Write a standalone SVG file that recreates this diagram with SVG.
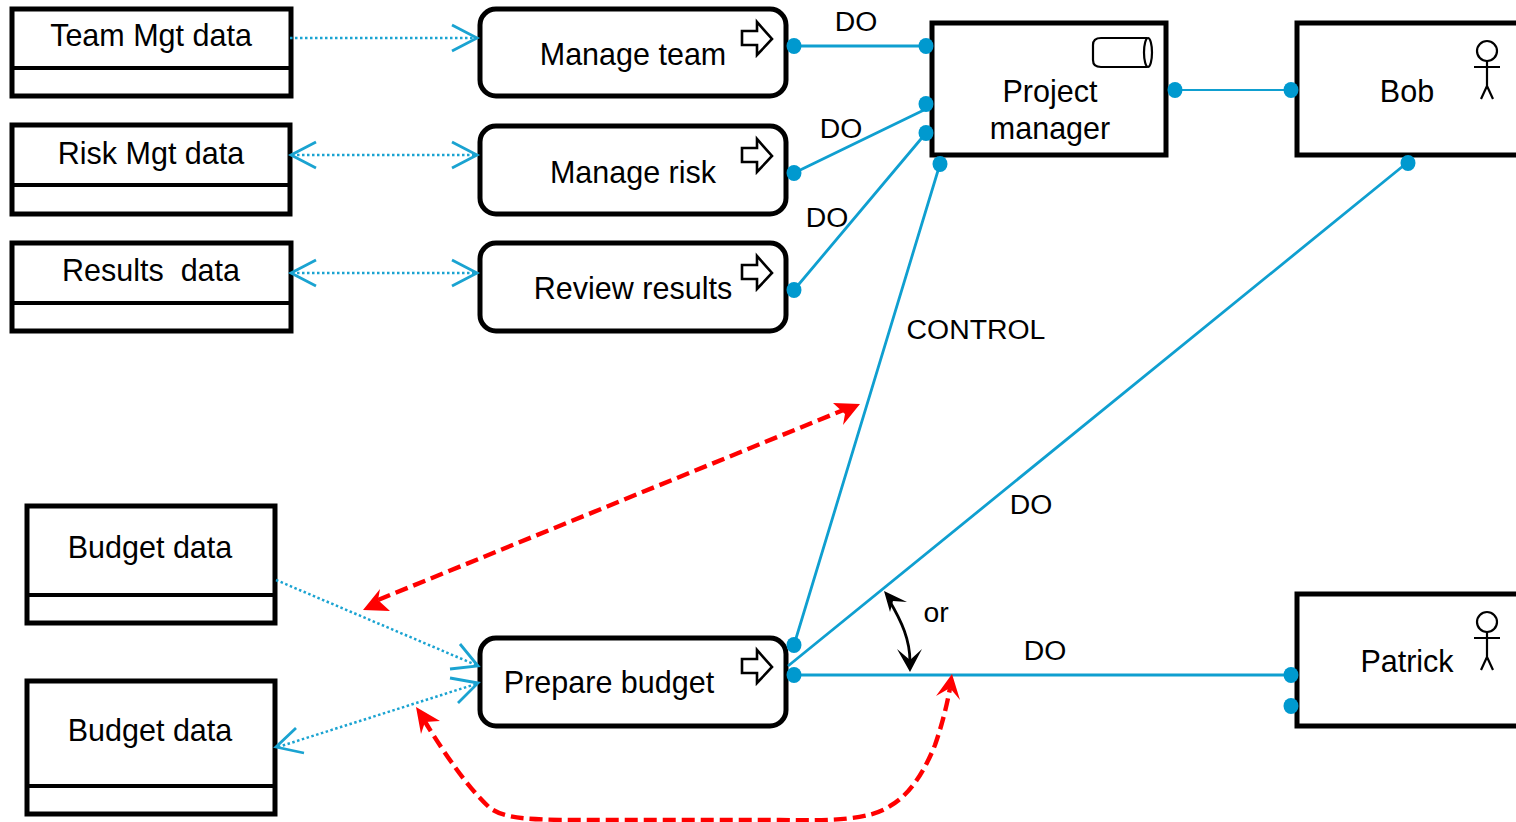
<svg xmlns="http://www.w3.org/2000/svg" width="1516" height="822" viewBox="0 0 1516 822">
<style>
text{font-family:"Liberation Sans",Arial,sans-serif;font-size:30.500px;fill:#000;text-anchor:middle}
.box{fill:#fff;stroke:#000;stroke-width:5}
.dv{fill:none;stroke:#000;stroke-width:4}
.icon{fill:#fff;stroke:#000;stroke-width:2.600}
.thin{fill:none;stroke:#000;stroke-width:2.200}
.solid{fill:none;stroke:#0f9fd0;stroke-width:2.800}
.fine{fill:none;stroke:#0f9fd0;stroke-width:2}
.dot{fill:none;stroke:#1aa3d1;stroke-width:2.500;stroke-dasharray:2.500 2.500}
.open{fill:none;stroke:#1aa3d1;stroke-width:2.800}
.red{fill:none;stroke:#f00;stroke-width:4.400;stroke-dasharray:13 6}
.rh{fill:#f00}
.pin{fill:#0099cf}
.k{fill:none;stroke:#000;stroke-width:2.800}
.kh{fill:#000}
.lb{font-size:28.400px}
</style>
<defs>
<path id="pa" class="icon" d="M742 31h15v-9l15 17-15 16v-10h-15z"/>
<g id="actor"><circle cx="1487" cy="51" r="10" class="thin"/><path class="thin" d="M1474 67h26M1487 61v25M1487 86l-6 13M1487 86l6 13"/></g>
</defs>
<g id="team-data"><rect class="box" x="12" y="9" width="279" height="87"/><path class="dv" d="M12 68H291"/><text x="151" y="46">Team Mgt data</text></g>
<g id="risk-data"><rect class="box" x="12" y="125" width="278" height="89"/><path class="dv" d="M12 185H290"/><text x="151" y="164">Risk Mgt data</text></g>
<g id="results-data"><rect class="box" x="12" y="243" width="279" height="88"/><path class="dv" d="M12 303H291"/><text x="151" y="281" xml:space="preserve">Results  data</text></g>
<g id="budget-data-1"><rect class="box" x="27" y="506" width="248" height="117"/><path class="dv" d="M27 595H275"/><text x="150" y="558">Budget data</text></g>
<g id="budget-data-2"><rect class="box" x="27" y="681" width="248" height="133"/><path class="dv" d="M27 786H275"/><text x="150" y="741">Budget data</text></g>
<g id="manage-team"><rect class="box" x="480" y="9" width="306" height="87" rx="16"/><use href="#pa"/><text x="633" y="65">Manage team</text></g>
<g id="manage-risk"><rect class="box" x="480" y="126" width="306" height="88" rx="16"/><use href="#pa" y="117"/><text x="633" y="183">Manage risk</text></g>
<g id="review-results"><rect class="box" x="480" y="243" width="306" height="88" rx="16"/><use href="#pa" y="234"/><text x="633" y="299">Review results</text></g>
<g id="prepare-budget"><rect class="box" x="480" y="638" width="306" height="88" rx="16"/><use href="#pa" y="628"/><text x="609" y="693">Prepare budget</text></g>
<g id="project-manager"><rect class="box" x="932" y="23" width="234" height="132"/><path class="thin" d="M1101 38h46M1101 67h46M1101 38q-8 0-8 7v15q0 7 8 7"/><ellipse class="thin" cx="1148" cy="52.500" rx="4" ry="14.500"/><text x="1050" y="102">Project</text><text x="1050" y="139">manager</text></g>
<g id="bob"><rect class="box" x="1297" y="23" width="225" height="132"/><use href="#actor"/><text x="1407" y="102">Bob</text></g>
<g id="patrick"><rect class="box" x="1297" y="594" width="225" height="132"/><use href="#actor" y="571"/><text x="1407" y="672">Patrick</text></g>
<g id="connectors">
<path class="dot" d="M290 38H476"/><path class="open" d="M452 25l25 13-25 13"/>
<path class="dot" d="M292 155H476"/><path class="open" d="M316 142l-25 13 25 13M452 142l25 13-25 13"/>
<path class="dot" d="M292 273H476"/><path class="open" d="M316 260l-25 13 25 13M452 260l25 13-25 13"/>
<path class="dot" d="M276 580L476 665"/><path class="open" d="M460 644l18 22-28 3"/>
<path class="dot" d="M278 747L476 684"/><path class="open" d="M450 678l28 5-20 20M304 753l-28-6 20-19"/>
<path class="solid" d="M794 46H926"/><path class="fine" d="M1175 90H1291"/>
<path class="solid" d="M794 173L926 109M794 290L926 133M794 645L940 164M788 666L1408 162M794 675H1291"/>
<path class="k" d="M889 600C902 622 910 640 910 662"/>
<path class="kh" d="M884 591l23 11-14-1-3 11zM910 672l-13-23 13 11 12-11z"/>
<path class="red" d="M378 600L846 409"/>
<path class="rh" d="M363 610l17-21-2 11 12 11zM860 404l-17 21 2-11-12-11z"/>
<path class="red" d="M424 720C445 755 470 790 490 808 505 819 530 819 560 820H780C830 821 870 820 890 806 910 795 925 770 935 745 942 725 947 705 950 688"/>
<path class="rh" d="M416 707l24 14-15 1-4 12zM952 674l8 26-10-12-14 8z"/>
</g>
<g id="pins">
<ellipse class="pin" cx="794" cy="46" rx="7.500" ry="8"/><ellipse class="pin" cx="926" cy="46" rx="7.500" ry="8"/>
<ellipse class="pin" cx="794" cy="173" rx="7.500" ry="8"/><ellipse class="pin" cx="926" cy="104" rx="7.500" ry="8"/>
<ellipse class="pin" cx="794" cy="290" rx="7.500" ry="8"/><ellipse class="pin" cx="926" cy="133" rx="7.500" ry="8"/>
<ellipse class="pin" cx="940" cy="164" rx="7.500" ry="8"/><ellipse class="pin" cx="1175" cy="90" rx="7.500" ry="8"/>
<ellipse class="pin" cx="1291" cy="90" rx="7.500" ry="8"/><ellipse class="pin" cx="1408" cy="163" rx="7.500" ry="8"/>
<ellipse class="pin" cx="794" cy="645" rx="7.500" ry="8"/><ellipse class="pin" cx="794" cy="675" rx="7.500" ry="8"/>
<ellipse class="pin" cx="1291" cy="675" rx="7.500" ry="8"/><ellipse class="pin" cx="1291" cy="706" rx="7.500" ry="8"/>
</g>
<g id="labels">
<text class="lb" x="856" y="31">DO</text>
<text class="lb" x="841" y="138">DO</text>
<text class="lb" x="827" y="227">DO</text>
<text class="lb" x="1031" y="514">DO</text>
<text class="lb" x="1045" y="660">DO</text>
<text class="lb" x="976" y="339">CONTROL</text>
<text class="lb" x="936" y="622">or</text>
</g>
</svg>
